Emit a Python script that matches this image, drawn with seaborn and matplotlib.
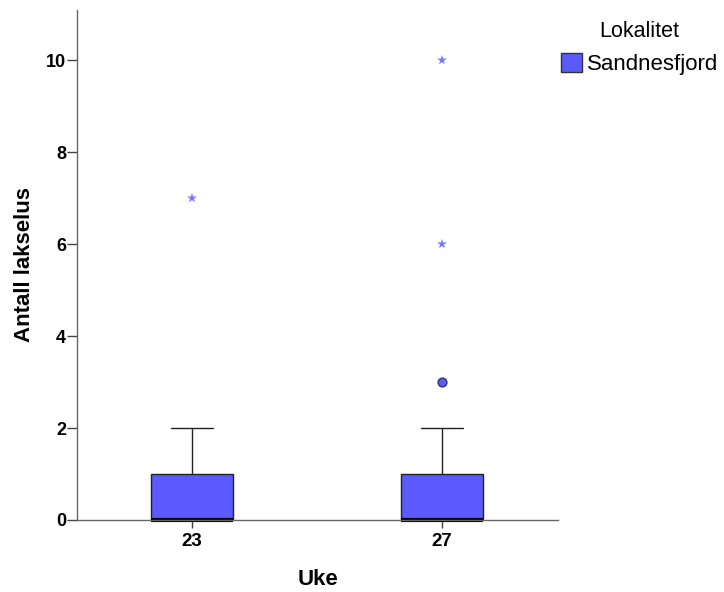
import matplotlib
matplotlib.use("Agg")
import matplotlib.pyplot as plt
import seaborn as sns
import pandas as pd
from matplotlib.patches import Patch

# Data
weeks = ["23", "27"]
whisker_low = [0, 0]
q1 = [0, 0]
median = [0, 0]
q3 = [1, 1]
whisker_high = [2, 2]
# outliers: (week, value)
mild_week = ["27"]
mild_value = [3]
extreme_week = ["23", "27", "27"]
extreme_value = [7, 6, 10]
series_name = "Sandnesfjord"
legend_title = "Lokalitet"

sns.set_theme(style="white")
plt.rcParams["font.family"] = ["Liberation Sans", "DejaVu Sans"]
plt.rcParams["text.color"] = "black"
plt.rcParams["axes.labelcolor"] = "black"
plt.rcParams["xtick.color"] = "black"
plt.rcParams["ytick.color"] = "black"

# five-number summary as data; with whis=(0,100) quartiles reproduce exactly
rows = []
for i, w in enumerate(weeks):
    for v in (whisker_low[i], q1[i], median[i], q3[i], whisker_high[i]):
        rows.append({"Uke": w, "Antall lakselus": v})
df = pd.DataFrame(rows)

fill = "#5a5aff"
fig = plt.figure(figsize=(7.24, 5.92), dpi=100)
ax = fig.add_axes([77 / 724, 1 - 520 / 592, (558 - 77) / 724, 510 / 592])

sns.boxplot(data=df, x="Uke", y="Antall lakselus", order=weeks, ax=ax,
            whis=(0, 100), width=0.33, showfliers=False,
            color=fill, saturation=1,
            boxprops=dict(facecolor=fill, edgecolor="#222222", linewidth=1.0),
            whiskerprops=dict(color="#222222", linewidth=1.0),
            capprops=dict(color="#222222", linewidth=1.0),
            medianprops=dict(color="black", linewidth=3.0, clip_on=False))

mild = pd.DataFrame({"Uke": mild_week, "v": mild_value})
ext = pd.DataFrame({"Uke": extreme_week, "v": extreme_value})
xpos = {w: i for i, w in enumerate(weeks)}
ax.scatter([xpos[w] for w in mild["Uke"]], mild["v"], s=40, marker="o",
           facecolor=fill, edgecolor="#333366", linewidth=1.0, zorder=5)
ax.scatter([xpos[w] for w in ext["Uke"]], ext["v"], s=55, marker="*",
           facecolor="#7777ff", edgecolor="none", zorder=5)

ax.set_xlim(-0.46, 1.464)
ax.set_ylim(0, 11.09)
ax.set_yticks([0, 2, 4, 6, 8, 10])
for s in ("top", "right"):
    ax.spines[s].set_visible(False)
for s in ("left", "bottom"):
    ax.spines[s].set_color("#666666")
    ax.spines[s].set_linewidth(1.0)
ax.tick_params(axis="y", which="major", direction="out", length=7,
               width=1.0, color="#444444", labelsize=13, pad=1, left=True)
ax.tick_params(axis="x", which="major", direction="out", length=6,
               width=1.0, color="#444444", labelsize=13.5, pad=3, bottom=True)
for lab in ax.get_xticklabels() + ax.get_yticklabels():
    lab.set_fontweight("bold")
ax.set_xlabel("Uke", fontsize=16, fontweight="bold", labelpad=14)
ax.set_ylabel("Antall lakselus", fontsize=16, fontweight="bold", labelpad=8)

handle = Patch(facecolor=fill, edgecolor="#333333", linewidth=1.0, label=series_name)
leg = fig.legend(handles=[handle], title=legend_title, loc="upper left",
                 bbox_to_anchor=(561 / 724, 1 - 21 / 592), frameon=False,
                 fontsize=16, title_fontsize=15.5, handlelength=0.95,
                 handleheight=0.95, handletextpad=0.2, borderaxespad=0,
                 borderpad=0)

fig.savefig("out.png", dpi=100)
